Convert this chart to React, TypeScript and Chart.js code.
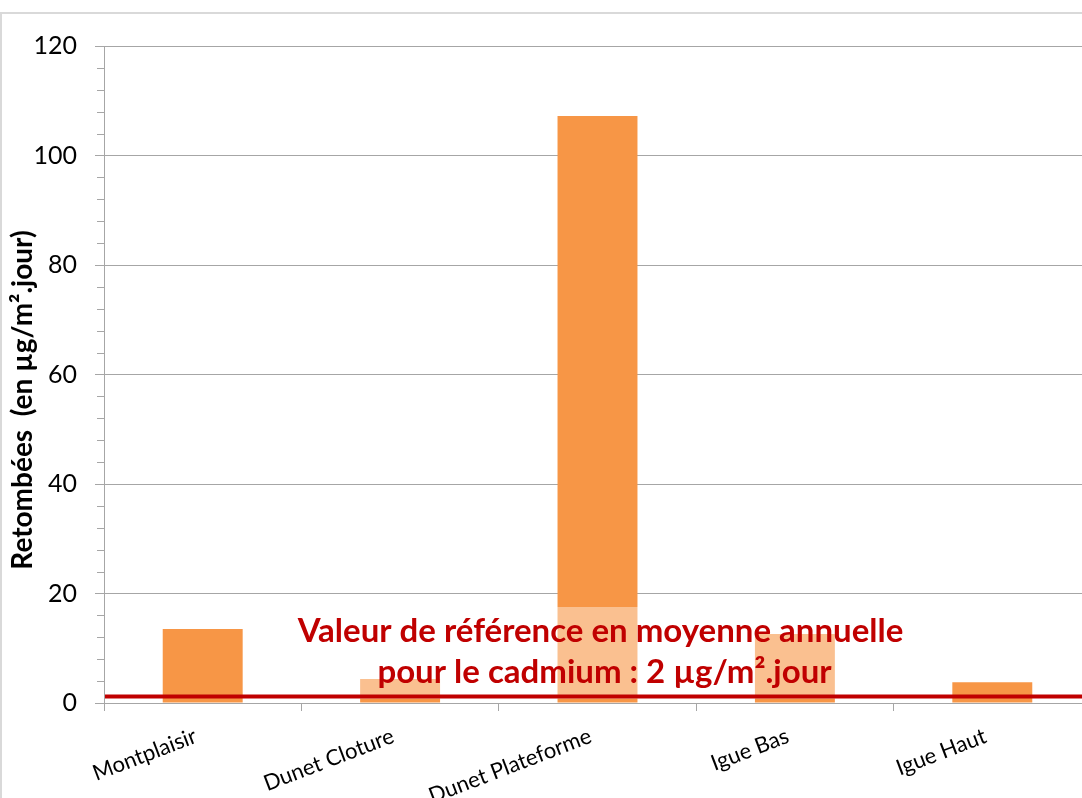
import React, { useEffect, useRef } from "react";
import { Chart, registerables } from "chart.js";

Chart.register(...registerables);

const categories = ["Montplaisir", "Dunet Cloture", "Dunet Plateforme", "Igue Bas", "Igue Haut"];
const values = [13.5, 4.4, 107.2, 12.6, 3.8];
const referenceValue = 1.2;
const yTicks = [0, 20, 40, 60, 80, 100, 120];
const yTitle = "Retombées  (en µg/m².jour)";
const annotationLines = ["Valeur de référence en moyenne annuelle", "pour le cadmium : 2 µg/m².jour"];

const FONT = "Lato, 'Open Sans', sans-serif";
const RED = "#C00000";
const ORANGE = "#F79646";
const GRID = "#A6A6A6";

const overlayPlugin = {
  id: "overlay",
  beforeDraw(chart: any) {
    const ctx = chart.ctx;
    ctx.save();
    ctx.strokeStyle = "#D9D9D9";
    ctx.lineWidth = 2;
    ctx.beginPath();
    ctx.moveTo(1, chart.height);
    ctx.lineTo(1, 13);
    ctx.lineTo(chart.width, 13);
    ctx.stroke();
    ctx.restore();
  },
  afterDraw(chart: any) {
    const ctx = chart.ctx;
    const y = chart.scales.y;
    const area = chart.chartArea;
    ctx.save();
    // minor ticks
    ctx.strokeStyle = GRID;
    ctx.lineWidth = 1;
    for (let v = 0; v <= 120; v += 4) {
      if (v % 20 === 0) continue;
      const py = Math.round(y.getPixelForValue(v)) + 0.5;
      ctx.beginPath();
      ctx.moveTo(area.left - 7, py);
      ctx.lineTo(area.left, py);
      ctx.stroke();
    }
    // semi-transparent text box
    const bottom = y.getPixelForValue(0);
    ctx.fillStyle = "rgba(255,255,255,0.4)";
    ctx.fillRect(290, bottom - 96, 620, 92);
    // reference line
    const ry = y.getPixelForValue(referenceValue);
    ctx.strokeStyle = RED;
    ctx.lineWidth = 4;
    ctx.beginPath();
    ctx.moveTo(area.left + 1, ry);
    ctx.lineTo(chart.width, ry);
    ctx.stroke();
    // annotation text
    ctx.fillStyle = RED;
    ctx.font = `bold 33px ${FONT}`;
    ctx.textAlign = "center";
    ctx.textBaseline = "alphabetic";
    const cx = (area.left + area.right) / 2;
    ctx.fillText(annotationLines[0], cx + 3, bottom - 61);
    ctx.fillText(annotationLines[1], cx + 7, bottom - 20);
    // y title
    ctx.fillStyle = "#000";
    ctx.font = `bold 28px ${FONT}`;
    ctx.translate(32, 400);
    ctx.rotate(-Math.PI / 2);
    ctx.textAlign = "center";
    ctx.textBaseline = "alphabetic";
    ctx.fillText(yTitle, 0, 0);
    ctx.restore();
  },
};

export default function App() {
  const ref = useRef<HTMLCanvasElement>(null);
  useEffect(() => {
    const canvas = ref.current!;
    const chart = new Chart(canvas, {
      type: "bar",
      data: {
        labels: categories,
        datasets: [
          {
            data: values,
            backgroundColor: ORANGE,
            borderWidth: 0,
            categoryPercentage: 1,
            barPercentage: 0.405,
          },
        ],
      },
      options: {
        responsive: false,
        animation: false,
        layout: { padding: { left: 0, right: 9, top: 46, bottom: 0 } },
        plugins: { legend: { display: false }, tooltip: { enabled: false } },
        scales: {
          x: {
            offset: true,
            grid: { display: true, drawOnChartArea: false, drawTicks: true, tickLength: 8, color: GRID, offset: true },
            border: { color: GRID, width: 1 },
            ticks: {
              autoSkip: false,
              maxRotation: 21,
              minRotation: 21,
              color: "#000",
              font: { family: FONT, size: 22 },
              padding: 12,
              labelOffset: -7,
            },
            afterFit(scale: any) {
              scale.height = 830 - 703;
            },
          },
          y: {
            min: 0,
            max: 120,
            afterBuildTicks(scale: any) {
              scale.ticks = yTicks.map((v) => ({ value: v }));
            },
            grid: { color: GRID, tickLength: 9, drawTicks: true },
            border: { color: GRID, width: 1 },
            ticks: { color: "#000", font: { family: FONT, size: 25 }, padding: 18 },
            afterFit(scale: any) {
              scale.width = 104;
            },
          },
        },
      },
      plugins: [overlayPlugin],
    });
    return () => chart.destroy();
  }, []);
  return (
    <div style={{ position: "fixed", left: 0, top: 0, width: 1082, height: 798, overflow: "hidden", background: "#fff" }}>
      <canvas ref={ref} width={1100} height={830} style={{ display: "block" }} />
    </div>
  );
}
